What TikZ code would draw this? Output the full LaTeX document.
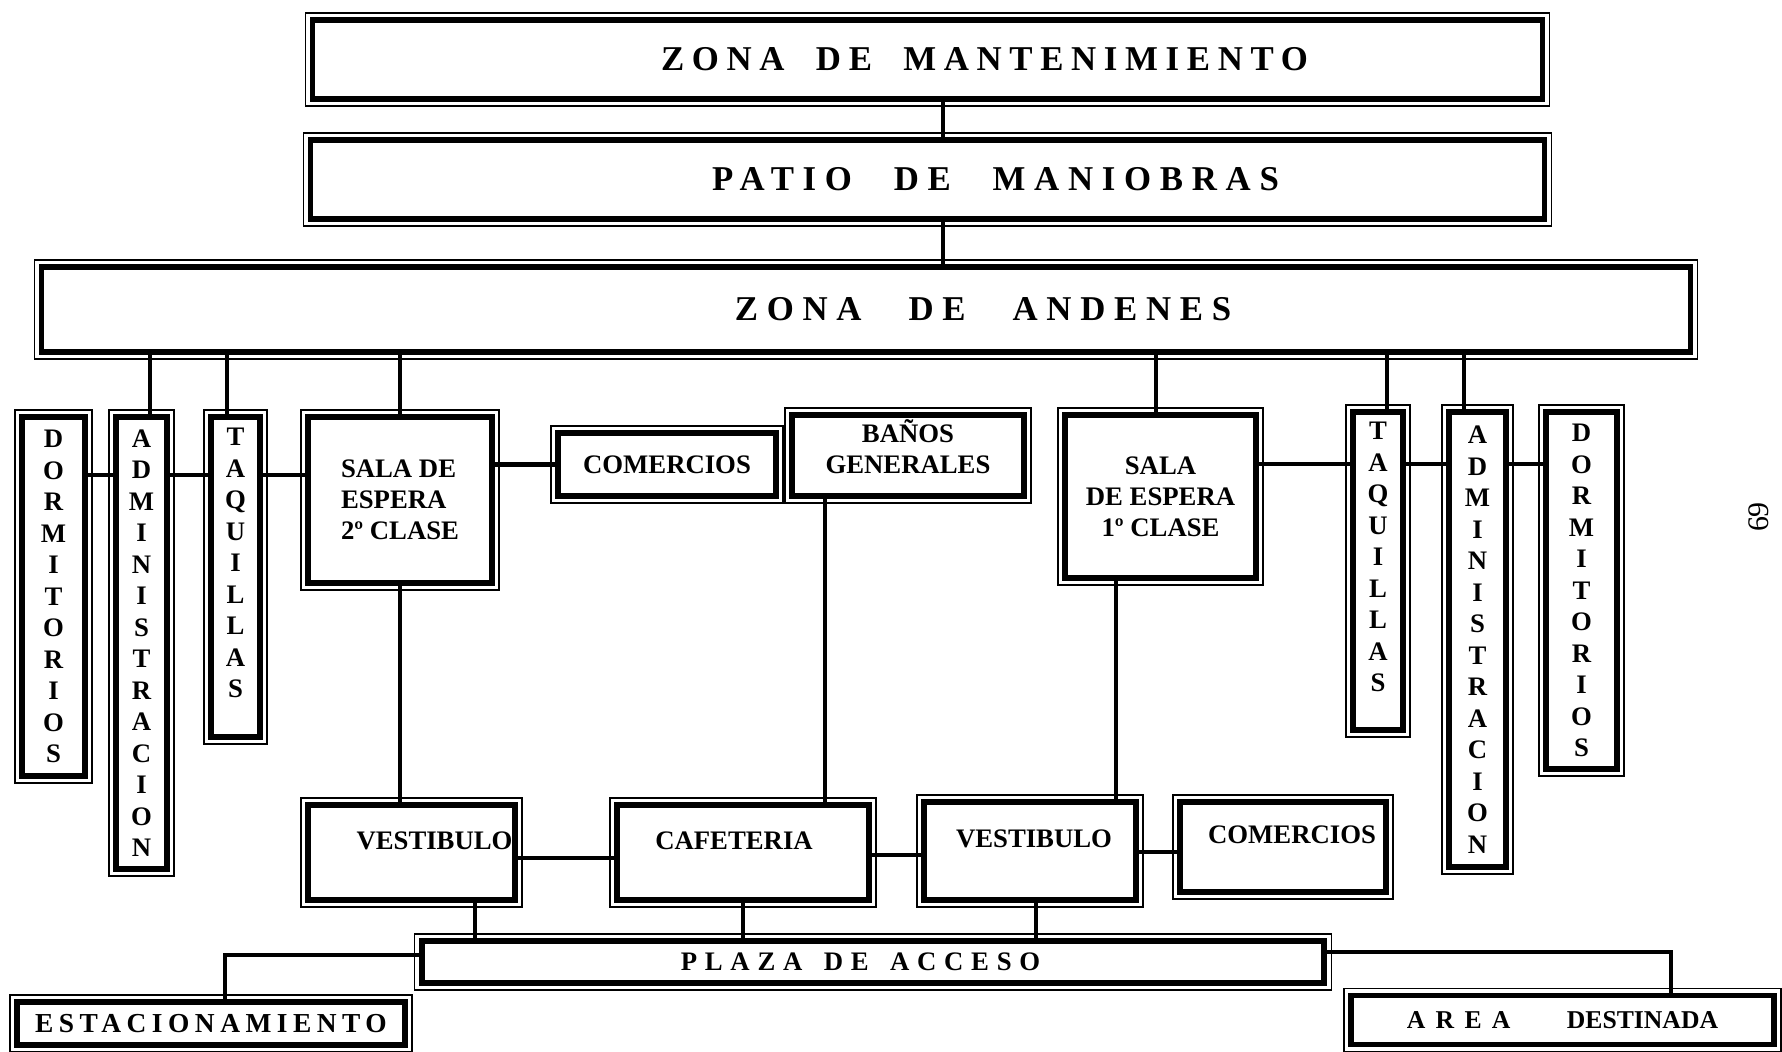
\documentclass[tikz,border=0pt]{standalone}
\usepackage{fontspec}
\setmainfont{Liberation Serif}
\usepackage{tikz}
\usetikzlibrary{positioning}

\tikzset{
  zona/.style={draw, line width=1.6pt, inner sep=0pt, outer sep=0pt, font=\bfseries\fontsize{9.9}{11}\selectfont},
  caja/.style={draw, line width=1.6pt, inner sep=0pt, outer sep=0pt, align=center, font=\bfseries\fontsize{7.6}{8.8}\selectfont},
  letras/.style={caja, font=\bfseries\fontsize{7.6}{8.96}\selectfont},
  bajo/.style={caja, text depth=7pt},
  liga/.style={line width=1.2pt},
}

\begin{document}
\begin{tikzpicture}[x=0.01cm, y=-0.01cm]
    \useasboundingbox (0,0) rectangle (1782,1051);
    % zonas de arriba
    \node[zona, minimum width=12.29cm, minimum height=0.79cm] at (927.5,59.5) (mant) {\hspace{1.14cm}\addfontfeatures{LetterSpace=22}ZONA\hspace{0.9em}DE\hspace{0.9em}MANTENIMIENTO};
    \node[zona, minimum width=12.33cm, minimum height=0.79cm] at (927.5,179.5) (patio) {\hspace{1.36cm}\addfontfeatures{LetterSpace=25}PATIO\hspace{1.2em}DE\hspace{1.2em}MANIOBRAS};
    \node[zona, minimum width=16.48cm, minimum height=0.85cm] at (866,309.5) (andenes) {\hspace{2.34cm}\addfontfeatures{LetterSpace=25}ZONA\hspace{1.35em}DE\hspace{1.35em}ANDENES};

    % lado izquierdo
    \node[letras, minimum width=0.63cm, minimum height=3.59cm] at (53.5,596.5) (dormI) {D\\O\\R\\M\\I\\T\\O\\R\\I\\O\\S};
    \node[letras, minimum width=0.51cm, minimum height=4.52cm] at (141.5,643) (adminI) {A\\D\\M\\I\\N\\I\\S\\T\\R\\A\\C\\I\\O\\N};
    \node[letras, text depth=8pt, minimum width=0.49cm, minimum height=3.20cm] at (235.5,577) (taqI) {T\\A\\Q\\U\\I\\L\\L\\A\\S};
    \node[caja, align=left, minimum width=1.84cm, minimum height=1.66cm] at (400,500) (salaB) {SALA DE\\ESPERA\\2º CLASE};
    \node[caja, minimum width=2.18cm, minimum height=0.63cm] at (667,464.5) (comA) {COMERCIOS};
    \node[caja, text depth=5pt, minimum width=2.32cm, minimum height=0.81cm] at (908,455.5) (banos) {BAÑOS\\GENERALES};

    % lado derecho
    \node[caja, minimum width=1.91cm, minimum height=1.63cm] at (1160.5,496.5) (salaA) {SALA\\DE ESPERA\\1º CLASE};
    \node[letras, text depth=8pt, minimum width=0.50cm, minimum height=3.18cm] at (1378,571) (taqD) {T\\A\\Q\\U\\I\\L\\L\\A\\S};
    \node[letras, minimum width=0.57cm, minimum height=4.55cm] at (1477.5,639.5) (adminD) {A\\D\\M\\I\\N\\I\\S\\T\\R\\A\\C\\I\\O\\N};
    \node[letras, minimum width=0.71cm, minimum height=3.57cm] at (1581.5,590.5) (dormD) {D\\O\\R\\M\\I\\T\\O\\R\\I\\O\\S};

    % abajo
    \node[bajo, minimum width=2.07cm, minimum height=0.95cm] at (411.5,852.5) (vestI) {\hspace*{0.46cm}VESTIBULO};
    \node[bajo, minimum width=2.52cm, minimum height=0.95cm] at (743,852.5) (cafe) {\hspace*{-0.18cm}CAFETERIA};
    \node[bajo, minimum width=2.12cm, minimum height=0.98cm] at (1030,851) (vestD) {\hspace*{0.08cm}VESTIBULO};
    \node[bajo, minimum width=2.06cm, minimum height=0.90cm] at (1283,847) (comB) {\hspace*{0.18cm}COMERCIOS};
    \node[zona, minimum width=9.02cm, minimum height=0.42cm, font=\bfseries\fontsize{7.6}{8}\selectfont] at (873,962) (plaza) {\hspace{-0.25cm}\addfontfeatures{LetterSpace=29}PLAZA\hspace{0.8em}DE\hspace{0.8em}ACCESO};
    \node[zona, minimum width=3.88cm, minimum height=0.43cm, font=\bfseries\fontsize{7.8}{8}\selectfont] at (211,1023.5) (estac) {\addfontfeatures{LetterSpace=20}ESTACIONAMIENTO};
    \node[zona, minimum width=4.23cm, minimum height=0.49cm, font=\bfseries\fontsize{7.3}{8}\selectfont] at (1562.5,1020) (area) {{\addfontfeatures{LetterSpace=40}AREA}\hspace{2.2em}DESTINADA};

    \node[rotate=90, font=\fontsize{8.5}{9}\selectfont] at (1759,517) (pag) {69};

    % marco fino de cada caja
    \foreach \n in {mant, patio, andenes, dormI, adminI, taqI, salaB, comA, banos, salaA, taqD, adminD, dormD, vestI, cafe, vestD, comB, plaza, estac, area}
        \draw[thin] ([shift={(-2pt,2pt)}]\n.north west) rectangle ([shift={(2pt,-2pt)}]\n.south east);

    % ligas verticales
    \draw[liga] ([xshift=0.155cm]mant.south) -- ([xshift=0.155cm]patio.north);
    \draw[liga] ([xshift=0.155cm]patio.south) -- ([xshift=0.155cm]patio.south |- andenes.north);
    \draw[liga] ([xshift=0.085cm]adminI.north) -- ([xshift=0.085cm]adminI.north |- andenes.south);
    \draw[liga] ([xshift=-0.085cm]taqI.north) -- ([xshift=-0.085cm]taqI.north |- andenes.south);
    \draw[liga] (salaB.north) -- (salaB.north |- andenes.south);
    \draw[liga] ([xshift=-0.045cm]salaA.north) -- ([xshift=-0.045cm]salaA.north |- andenes.south);
    \draw[liga] ([xshift=0.09cm]taqD.north) -- ([xshift=0.09cm]taqD.north |- andenes.south);
    \draw[liga] ([xshift=-0.135cm]adminD.north) -- ([xshift=-0.135cm]adminD.north |- andenes.south);
    \draw[liga] (salaB.south) -- (salaB.south |- vestI.north);
    \draw[liga] (banos.south -| 825,0) -- (cafe.north -| 825,0);
    \draw[liga] (salaA.south -| 1116,0) -- (vestD.north -| 1116,0);
    \draw[liga] (vestI.south -| 475,0) -- (plaza.north -| 475,0);
    \draw[liga] (cafe.south) -- (cafe.south |- plaza.north);
    \draw[liga] ([xshift=0.06cm]vestD.south) -- ([xshift=0.06cm]vestD.south |- plaza.north);

    % ligas horizontales
    \draw[liga] (dormI.east |- 0,475) -- (adminI.west |- 0,475);
    \draw[liga] (adminI.east |- 0,475) -- (taqI.west |- 0,475);
    \draw[liga] (taqI.east |- 0,475) -- (salaB.west |- 0,475);
    \draw[liga] (comA.west) -- (comA.west -| salaB.east);
    \draw[liga] (salaA.east |- 0,464) -- (taqD.west |- 0,464);
    \draw[liga] (taqD.east |- 0,464) -- (adminD.west |- 0,464);
    \draw[liga] (adminD.east |- 0,464) -- (dormD.west |- 0,464);
    \draw[liga] (vestI.east |- 0,858) -- (cafe.west |- 0,858);
    \draw[liga] (cafe.east |- 0,855) -- (vestD.west |- 0,855);
    \draw[liga] (vestD.east |- 0,852) -- (comB.west |- 0,852);
    \draw[liga] ([yshift=0.07cm]plaza.west) -| ([xshift=0.14cm]estac.north);
    \draw[liga] ([yshift=0.1cm]plaza.east) -| ([xshift=1.085cm]area.north);
\end{tikzpicture}
\end{document}
